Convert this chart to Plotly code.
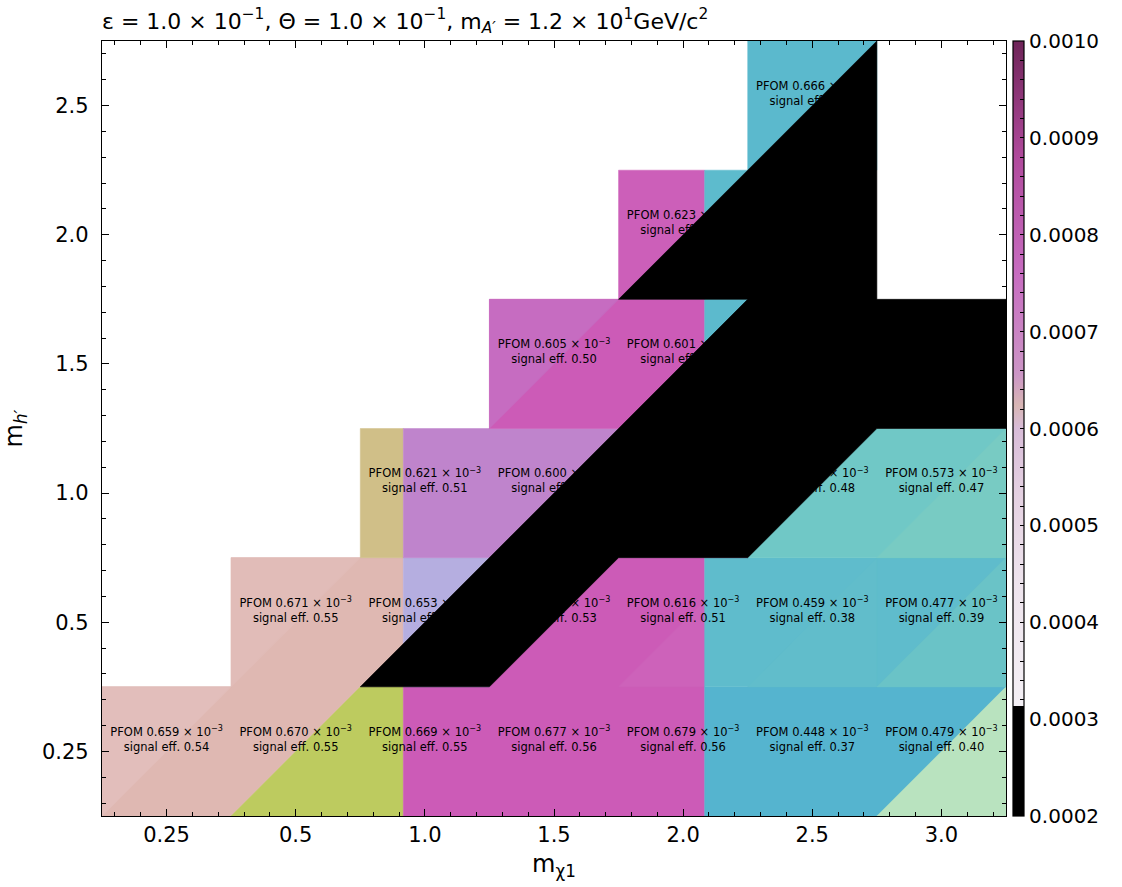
import plotly.graph_objects as go

# Scan axes (grid columns / rows are the category positions)
m_chi1 = ["0.25", "0.5", "1.0", "1.5", "2.0", "2.5", "3.0"]
m_hprime = ["0.25", "0.5", "1.0", "1.5", "2.0", "2.5"]

# Benchmark points: grid column, grid row, PFOM (x 10^-3), signal efficiency
pt_col = [0, 1, 2, 3, 4, 5, 6,
          1, 2, 3, 4, 5, 6,
          2, 3, 5, 6,
          3, 4,
          4,
          5]
pt_row = [0, 0, 0, 0, 0, 0, 0,
          1, 1, 1, 1, 1, 1,
          2, 2, 2, 2,
          3, 3,
          4,
          5]
pfom = [0.659, 0.670, 0.669, 0.677, 0.679, 0.448, 0.479,
        0.671, 0.653, 0.645, 0.616, 0.459, 0.477,
        0.621, 0.600, 0.583, 0.573,
        0.605, 0.601,
        0.623,
        0.666]
sig_eff = [0.54, 0.55, 0.55, 0.56, 0.56, 0.37, 0.40,
           0.55, 0.54, 0.53, 0.51, 0.38, 0.39,
           0.51, 0.49, 0.48, 0.47,
           0.50, 0.49,
           0.51,
           0.55]

# Filled regions of the scan in grid units (column, row); later entries lie on top
A = 1.5 + 1 / 3
B = 3.5 + 2 / 3
regions = [
    ("#dfb8b2", [(-0.5, -0.5), (0.5, -0.5), (1.5, 0.5), (A, 0.5), (A, 1.5), (0.5, 1.5), (0.5, 0.5), (-0.5, 0.5)]),
    ("#e2bebb", [(-0.5, -0.5), (0.5, 0.5), (-0.5, 0.5)]),
    ("#e1bcb8", [(0.5, 0.5), (1.5, 1.5), (0.5, 1.5)]),
    ("#bdcb5f", [(0.5, -0.5), (A, -0.5), (A, 0.5), (1.5, 0.5)]),
    ("#cc5bb7", [(A, -0.5), (B, -0.5), (B, 1.5), (2.5, 1.5), (2.5, 0.5), (A, 0.5)]),
    ("#cd62ba", [(3.5, 0.5), (B, 0.5), (B, B - 3)]),
    ("#b5aee0", [(A, 0.5), (2.5, 0.5), (2.5, 1.5), (A, 1.5)]),
    ("#55b4cf", [(B, -0.5), (6.5, -0.5), (6.5, 0.5), (B, 0.5)]),
    ("#b9e3bf", [(5.5, -0.5), (6.5, -0.5), (6.5, 0.5)]),
    ("#5fbccc", [(B, 0.5), (6.5, 0.5), (6.5, 1.5), (B, 1.5)]),
    ("#61bdcb", [(4.5, 0.5), (5.5, 0.5), (5.5, 1.5)]),
    ("#6ac3c7", [(5.5, 0.5), (6.5, 0.5), (6.5, 1.5)]),
    ("#d0bf88", [(1.5, 1.5), (A, 1.5), (A, 2.5), (1.5, 2.5)]),
    ("#bf84cc", [(A, 1.5), (4.5, 1.5), (4.5, 2.5), (A, 2.5)]),
    ("#70c8c6", [(4.5, 1.5), (6.5, 1.5), (6.5, 2.5), (4.5, 2.5)]),
    ("#78cbc3", [(5.5, 1.5), (6.5, 1.5), (6.5, 2.5)]),
    ("#cc5bb7", [(2.5, 2.5), (B, 2.5), (B, 3.5), (2.5, 3.5)]),
    ("#c66cc1", [(2.5, 2.5), (3.5, 3.5), (2.5, 3.5)]),
    ("#5cbacd", [(B, 2.5), (4.5, 2.5), (4.5, 3.5), (B, 3.5)]),
    ("#cc5fb9", [(3.5, 3.5), (B, 3.5), (B, 4.5), (3.5, 4.5)]),
    ("#5dbbcd", [(B, 3.5), (4.5, 3.5), (4.5, 4.5), (B, 4.5)]),
    ("#5bb9cd", [(4.5, 4.5), (5.5, 4.5), (5.5, 5.5), (4.5, 5.5)]),
]

# Region where the PFOM drops below the colour scale floor
excluded = [(1.5, 0.5), (2.5, 0.5), (3.5, 1.5), (4.5, 1.5), (5.5, 2.5), (6.5, 2.5),
            (6.5, 3.5), (5.5, 3.5), (5.5, 5.5), (3.5, 3.5), (4.5, 3.5), (1.5, 0.5)]

# Colour scale of the PFOM bar
cmin, cmax = 0.0002, 0.0010
cbar_stops = [
    (0.0, "#000000"), (0.142, "#000000"), (0.1425, "#f4f0f5"),
    (0.30, "#eee4ed"), (0.42, "#e4d0e1"), (0.50, "#d8bcd8"),
    (0.53, "#d8b6b4"), (0.57, "#cc96c6"), (0.70, "#c76cc0"),
    (0.85, "#b04a9c"), (1.0, "#6e2458"),
]
cbar_major = [round(0.0002 + 0.0001 * i, 4) for i in range(9)]
cbar_ticks = [round(0.0002 + 0.00002 * i, 5) for i in range(41)]

fig = go.Figure()

for color, poly in regions:
    xs = [p[0] for p in poly] + [poly[0][0]]
    ys = [p[1] for p in poly] + [poly[0][1]]
    fig.add_trace(go.Scatter(x=xs, y=ys, mode="lines", fill="toself",
                             fillcolor=color, line=dict(width=0.5, color=color),
                             hoverinfo="skip"))

labels = [f"PFOM {p:.3f} × 10<sup>−3</sup><br>signal eff. {e:.2f}"
          for p, e in zip(pfom, sig_eff)]
fig.add_trace(go.Scatter(
    x=pt_col, y=[r + 0.085 for r in pt_row], mode="text", text=labels,
    textposition="middle center",
    textfont=dict(family="DejaVu Sans", size=11.5, color="black"),
    hoverinfo="skip"))

fig.add_trace(go.Scatter(
    x=[p[0] for p in excluded], y=[p[1] for p in excluded], mode="lines",
    fill="toself", fillcolor="black", line=dict(width=0.6, color="black"),
    hoverinfo="skip"))

# PFOM colour bar
fig.add_trace(go.Scatter(
    x=pt_col, y=pt_row, mode="markers",
    marker=dict(size=1, opacity=0, color=[p * 1e-3 for p in pfom],
                cmin=cmin, cmax=cmax,
                colorscale=[[s, c] for s, c in cbar_stops],
                showscale=True,
                colorbar=dict(
                    x=1.0077, xanchor="left", xref="paper", xpad=0, ypad=0,
                    y=0.5, yanchor="middle", len=1, lenmode="fraction",
                    thickness=11, outlinewidth=1.2, outlinecolor="black",
                    tickmode="array", tickvals=cbar_ticks,
                    ticktext=[f"{t:.4f}" if any(abs(t - m) < 1e-9 for m in cbar_major) else ""
                              for t in cbar_ticks],
                    ticks="inside", ticklen=4, tickwidth=1,
                    tickcolor="black", tickfont=dict(size=20, family="DejaVu Sans"),
                )),
    hoverinfo="skip"))

axis_common = dict(
    showgrid=False, zeroline=False, showline=True, linecolor="black",
    linewidth=1.3, mirror="allticks", ticks="inside", ticklen=7, tickwidth=1,
    tickcolor="black", tickfont=dict(size=21, family="DejaVu Sans"),
    minor=dict(ticks="inside", ticklen=3.5, tickwidth=1, tickcolor="black",
               tickmode="linear", tick0=0, dtick=0.2, showgrid=False),
)

fig.update_xaxes(range=[-0.5, 6.5], tickmode="array",
                 tickvals=list(range(len(m_chi1))), ticktext=m_chi1,
                 title=dict(text="m<sub>χ1</sub>", font=dict(size=24), standoff=8),
                 ticklabelstandoff=0, **axis_common)
fig.update_yaxes(range=[-0.5, 5.5], tickmode="array",
                 tickvals=list(range(len(m_hprime))), ticktext=m_hprime,
                 title=dict(text="m<sub><i>h′</i></sub>", font=dict(size=24), standoff=12),
                 ticklabelstandoff=8, **axis_common)

fig.update_layout(
    width=1122, height=887,
    margin=dict(l=102, r=116, t=41, b=71, autoexpand=False),
    paper_bgcolor="white", plot_bgcolor="white",
    font=dict(family="DejaVu Sans", color="black", size=20),
    showlegend=False,
    title=dict(
        text="ε = 1.0 × 10<sup>−1</sup>, Θ = 1.0 × 10<sup>−1</sup>, "
             "m<sub><i>A′</i></sub> = 1.2 × 10<sup>1</sup>GeV/c<sup>2</sup>",
        x=102 / 1122, xanchor="left", xref="container",
        y=1 - 21 / 887, yanchor="middle", yref="container",
        font=dict(size=22, family="DejaVu Sans"),
    ),
)

fig.write_html("out.html")
